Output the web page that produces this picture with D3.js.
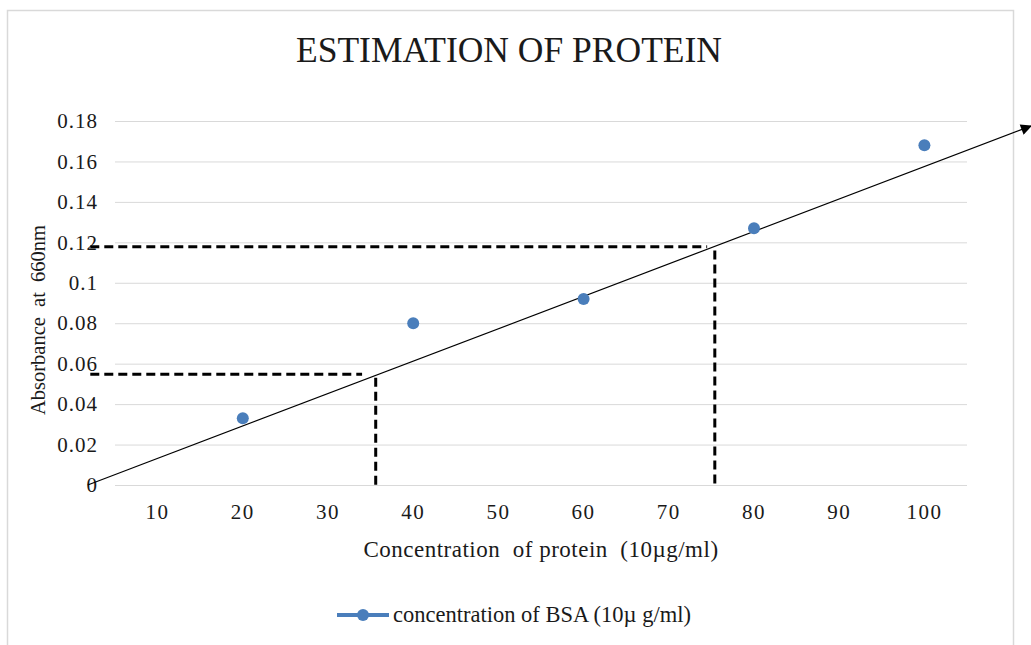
<!DOCTYPE html>
<html>
<head>
<meta charset="utf-8">
<script src="https://cdn.jsdelivr.net/npm/d3@7"></script>
<style>
html, body { margin: 0; padding: 0; background: #fff; }
svg { display: block; }
text { font-family: "Liberation Serif", "Times New Roman", serif; fill: #1a1a1a; }
</style>
</head>
<body>
<svg id="chart" width="1031" height="645"></svg>
<script>
// ---- data ----
const categories = ["10", "20", "30", "40", "50", "60", "70", "80", "90", "100"];
const absorbance = [null, 0.033, null, 0.08, null, 0.092, null, 0.127, null, 0.168];
const yTicks = [0, 0.02, 0.04, 0.06, 0.08, 0.1, 0.12, 0.14, 0.16, 0.18];
const yTickLabels = ["0", "0.02", "0.04", "0.06", "0.08", "0.1", "0.12", "0.14", "0.16", "0.18"];
// hand-drawn annotations (in data units: concentration, absorbance)
const trendStart = [1.8, 0];
const trendEnd = [112.5, 0.1775];
const guideSamples = [
  { hFrom: 2.1, hTo: 34.0, y: 0.0548, x: 35.6, vFrom: 0.053 },
  { hFrom: 2.1, hTo: 74.5, y: 0.1178, x: 75.4, vFrom: 0.116 }
];
const titleText = "ESTIMATION OF PROTEIN";
const xTitle = "Concentration  of protein  (10\u00b5g/ml)";
const yTitle = "Absorbance  at  660nm";
const legendLabel = "concentration of BSA (10\u00b5 g/ml)";

// ---- layout ----
const svg = d3.select("#chart");
const plot = { left: 115, right: 967, top: 121, bottom: 485 };
const blue = "#4A7EBB";

// frame
svg.append("path")
  .attr("d", "M7.5,645 V10.5 H1013.5 V645")
  .attr("fill", "none").attr("stroke", "#d9d9d9").attr("stroke-width", 1.5);

const x = d3.scaleBand().domain(categories).range([plot.left, plot.right]).padding(0);
const bw = x.bandwidth();
const xLin = d3.scaleLinear().domain([10, 100])
  .range([x("10") + bw / 2, x("100") + bw / 2]);
const y = d3.scaleLinear().domain([0, 0.18]).range([plot.bottom, plot.top]);

// grid + y axis
const yAxis = d3.axisLeft(y)
  .tickValues(yTicks)
  .tickSize(-(plot.right - plot.left))
  .tickPadding(17)
  .tickFormat((d, i) => yTickLabels[i]);
const gy = svg.append("g").attr("transform", `translate(${plot.left},0)`).call(yAxis);
gy.select(".domain").remove();
gy.selectAll(".tick line").attr("stroke", "#d9d9d9").attr("stroke-width", 1);
gy.selectAll(".tick text").attr("font-size", 21).attr("letter-spacing", 1)
  .attr("font-family", "Liberation Serif").attr("fill", "#1a1a1a");

// x axis
const xAxis = d3.axisBottom(x).tickSize(0).tickPadding(19);
const gx = svg.append("g").attr("transform", `translate(0,${plot.bottom})`).call(xAxis);
gx.select(".domain").remove();
gx.selectAll(".tick text").attr("font-size", 21).attr("letter-spacing", 1.5)
  .attr("font-family", "Liberation Serif").attr("fill", "#1a1a1a");

// title
svg.append("text").attr("x", 509).attr("y", 62).attr("text-anchor", "middle")
  .attr("font-size", 35.5).attr("fill", "#000").text(titleText);

// axis titles
svg.append("text").attr("x", 541).attr("y", 557).attr("text-anchor", "middle")
  .attr("font-size", 23).attr("letter-spacing", 0.5).style("white-space", "pre").text(xTitle);
svg.append("text").attr("transform", "translate(45,320) rotate(-90)").attr("text-anchor", "middle")
  .attr("font-size", 20.5).style("white-space", "pre").text(yTitle);

// dashed guides
const guides = svg.append("g").attr("stroke", "#000").attr("stroke-width", 3)
  .attr("stroke-dasharray", "9,5").attr("fill", "none");
guideSamples.forEach(g => {
  guides.append("line").attr("x1", xLin(g.hFrom)).attr("x2", xLin(g.hTo))
    .attr("y1", y(g.y)).attr("y2", y(g.y));
  guides.append("line").attr("x1", xLin(g.x)).attr("x2", xLin(g.x))
    .attr("y1", y(g.vFrom)).attr("y2", y(0));
});

// trend line with arrow
svg.append("defs").append("marker").attr("id", "arrow")
  .attr("viewBox", "0 0 10 10").attr("refX", 9).attr("refY", 5)
  .attr("markerWidth", 12).attr("markerHeight", 11).attr("markerUnits", "userSpaceOnUse")
  .attr("orient", "auto")
  .append("path").attr("d", "M0,0 L10,5 L0,10 Z").attr("fill", "#000");
svg.append("line")
  .attr("x1", xLin(trendStart[0])).attr("y1", y(trendStart[1]))
  .attr("x2", xLin(trendEnd[0])).attr("y2", y(trendEnd[1]))
  .attr("stroke", "#000").attr("stroke-width", 1.2).attr("marker-end", "url(#arrow)");

// data points (line with gaps -> markers only)
const pts = categories.map((c, i) => ({ c, v: absorbance[i] }));
const line = d3.line().defined(d => d.v !== null)
  .x(d => x(d.c) + bw / 2).y(d => y(d.v));
svg.append("path").datum(pts).attr("d", line).attr("fill", "none")
  .attr("stroke", blue).attr("stroke-width", 3);
svg.append("g").selectAll("circle").data(pts.filter(d => d.v !== null)).join("circle")
  .attr("cx", d => x(d.c) + bw / 2).attr("cy", d => y(d.v)).attr("r", 6)
  .attr("fill", blue);

// legend
const lg = svg.append("g").attr("transform", "translate(337,615)");
lg.append("line").attr("x1", 0).attr("x2", 52).attr("y1", 0).attr("y2", 0)
  .attr("stroke", blue).attr("stroke-width", 4);
lg.append("circle").attr("cx", 26).attr("cy", 0).attr("r", 6).attr("fill", blue);
lg.append("text").attr("x", 56).attr("y", 7).attr("font-size", 22.5).text(legendLabel);
</script>
</body>
</html>
